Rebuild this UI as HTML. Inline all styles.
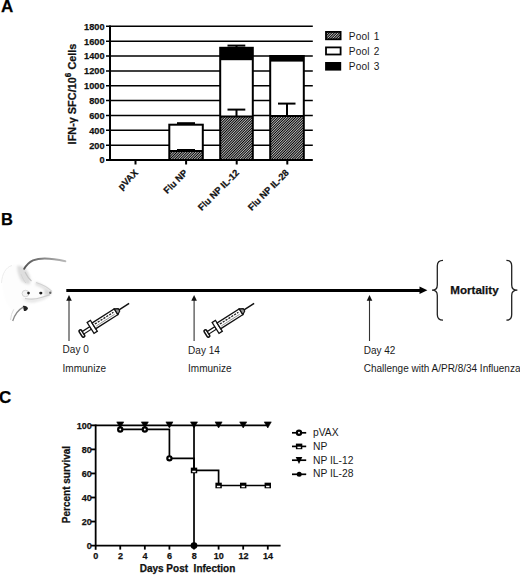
<!DOCTYPE html>
<html><head><meta charset="utf-8"><style>
html,body{margin:0;padding:0;background:#fff;width:520px;height:575px;overflow:hidden;}
svg{display:block;}
text{font-family:"Liberation Sans",sans-serif;}
.b{font-weight:bold;stroke:#111;stroke-width:0.25px;}
</style></head><body>
<svg width="520" height="575" viewBox="0 0 520 575">
<defs>
<filter id="soft" x="-10%" y="-10%" width="120%" height="120%"><feGaussianBlur stdDeviation="0.5"/></filter>
<filter id="soft2" x="-20%" y="-20%" width="140%" height="140%"><feGaussianBlur stdDeviation="1.3"/></filter>
<linearGradient id="tailg" gradientUnits="userSpaceOnUse" x1="24" y1="265" x2="66" y2="261"><stop offset="0" stop-color="#555"/><stop offset="0.5" stop-color="#888"/><stop offset="1" stop-color="#bbb"/></linearGradient>
<pattern id="hatch" patternUnits="userSpaceOnUse" width="1.8" height="1.8" patternTransform="rotate(-45)">
<rect width="1.8" height="1.8" fill="#fff"/>
<rect width="1.8" height="1.15" fill="#000"/>
</pattern>
<g id="syr">
<rect x="-1.4" y="-4" width="2.8" height="8" rx="1.2" fill="#fff" stroke="#111" stroke-width="1.6"/>
<rect x="1.4" y="-1.5" width="9" height="3" fill="#fff" stroke="#111" stroke-width="1.2"/>
<rect x="10.3" y="-6.4" width="3.9" height="12.8" fill="#fff" stroke="#111" stroke-width="1.3"/>
<rect x="14.2" y="-3.4" width="26.3" height="6.8" fill="#fff" stroke="#111" stroke-width="1.3"/>
<path d="M16 -1 L38 -1" stroke="#222" stroke-width="1.3" stroke-dasharray="2.2 1.2"/>
<path d="M16 1.4 L38 1.4" stroke="#888" stroke-width="0.8"/>
<path d="M40.5 -3.4 L44 -1.4 L44 1.4 L40.5 3.4 Z" fill="#999" stroke="#111" stroke-width="1.1"/>
<path d="M44 0 L56 0" stroke="#111" stroke-width="1.5"/>
</g>
</defs>

<!-- ===== Panel A ===== -->
<text x="1" y="12" class="b" font-size="17">A</text>

<!-- gridlines -->
<g stroke="#000" stroke-width="1.5">
<line x1="106" y1="26.35" x2="312.8" y2="26.35"/>
<line x1="106" y1="41.2" x2="312.8" y2="41.2"/>
<line x1="106" y1="56.05" x2="312.8" y2="56.05"/>
<line x1="106" y1="70.9" x2="312.8" y2="70.9"/>
<line x1="106" y1="85.75" x2="312.8" y2="85.75"/>
<line x1="106" y1="100.6" x2="312.8" y2="100.6"/>
<line x1="106" y1="115.45" x2="312.8" y2="115.45"/>
<line x1="106" y1="130.3" x2="312.8" y2="130.3"/>
<line x1="106" y1="145.15" x2="312.8" y2="145.15"/>
</g>
<!-- axes -->
<g stroke="#000" stroke-width="2">
<line x1="110" y1="25.6" x2="110" y2="161"/>
<line x1="106" y1="160" x2="312.8" y2="160"/>
<line x1="135.5" y1="160" x2="135.5" y2="164.5"/>
<line x1="186.1" y1="160" x2="186.1" y2="164.5"/>
<line x1="236.7" y1="160" x2="236.7" y2="164.5"/>
<line x1="287.3" y1="160" x2="287.3" y2="164.5"/>
</g>
<!-- y tick labels -->
<g class="b" font-size="9.2" text-anchor="end" fill="#111">
<text x="104.5" y="29.7">1800</text>
<text x="104.5" y="44.5">1600</text>
<text x="104.5" y="59.4">1400</text>
<text x="104.5" y="74.2">1200</text>
<text x="104.5" y="89.1">1000</text>
<text x="104.5" y="103.9">800</text>
<text x="104.5" y="118.8">600</text>
<text x="104.5" y="133.6">400</text>
<text x="104.5" y="148.5">200</text>
<text x="104.5" y="163.3">0</text>
</g>
<!-- y axis label -->
<text transform="translate(75.6,144.4) rotate(-90)" class="b" font-size="10.9" fill="#111">IFN-γ SFC/10<tspan dy="-4.6" font-size="8.2">6</tspan><tspan dy="4.6"> Cells</tspan></text>

<!-- bars -->
<!-- Flu NP -->
<rect x="169.3" y="124.7" width="33.5" height="35.3" fill="#fff"/>
<rect x="169.3" y="151" width="33.5" height="9" fill="url(#hatch)"/>
<g stroke="#000" stroke-width="2" fill="none">
<rect x="169.3" y="124.7" width="33.5" height="35.3"/>
<line x1="169.3" y1="151" x2="202.8" y2="151"/>
<line x1="177" y1="123.2" x2="195" y2="123.2"/>
<line x1="177" y1="150" x2="195" y2="150"/>
</g>
<!-- IL-12 -->
<rect x="220.2" y="47.8" width="32.6" height="112.2" fill="#fff"/>
<rect x="220.2" y="47.8" width="32.6" height="12.4" fill="#000"/>
<rect x="220.2" y="116.5" width="32.6" height="43.5" fill="url(#hatch)"/>
<g stroke="#000" stroke-width="2" fill="none">
<rect x="220.2" y="47.8" width="32.6" height="112.2"/>
<line x1="220.2" y1="116.5" x2="252.8" y2="116.5"/>
<line x1="236.5" y1="116.5" x2="236.5" y2="109.6"/>
<line x1="227.5" y1="109.6" x2="245.3" y2="109.6"/>
<line x1="227.5" y1="45.6" x2="245.3" y2="45.6"/>
<line x1="236.5" y1="47" x2="236.5" y2="45.6"/>
</g>
<!-- IL-28 -->
<rect x="270.2" y="56" width="33.6" height="104" fill="#fff"/>
<rect x="270.2" y="56" width="33.6" height="5.6" fill="#000"/>
<rect x="270.2" y="116" width="33.6" height="44" fill="url(#hatch)"/>
<g stroke="#000" stroke-width="2" fill="none">
<rect x="270.2" y="56" width="33.6" height="104"/>
<line x1="270.2" y1="116" x2="303.8" y2="116"/>
<line x1="287" y1="116" x2="287" y2="103.6"/>
<line x1="278" y1="103.6" x2="295.5" y2="103.6"/>
</g>

<!-- x labels rotated -->
<g class="b" font-size="9.3" text-anchor="end" fill="#111">
<text transform="translate(138.7,173.4) rotate(-45)">pVAX</text>
<text transform="translate(188.2,173.4) rotate(-45)">Flu NP</text>
<text transform="translate(239.7,173.4) rotate(-45)">Flu NP IL-12</text>
<text transform="translate(289.5,173.4) rotate(-45)">Flu NP IL-28</text>
</g>

<!-- legend A -->
<rect x="326" y="31.9" width="14.6" height="7.4" fill="url(#hatch)" stroke="#000" stroke-width="1.8"/>
<rect x="326" y="47.4" width="14.6" height="7.1" fill="#fff" stroke="#000" stroke-width="1.8"/>
<rect x="325.1" y="62" width="16.1" height="8.6" fill="#000"/>
<g font-size="10.1" fill="#1a1a1a" letter-spacing="0.15" word-spacing="1.2">
<text x="348.8" y="39.6">Pool 1</text>
<text x="348.8" y="54.8">Pool 2</text>
<text x="348.8" y="69.8">Pool 3</text>
</g>

<!-- ===== Panel B ===== -->
<text x="1" y="224.6" class="b" font-size="16.5">B</text>

<!-- mouse -->
<g id="mouse">
<g filter="url(#soft2)">
<path d="M2.5 288 C0.5 276 6 266 15 264.5 C20 264 24 266 27 270 C31 276 35 282 40 286 C45 288.5 50 290 51.5 292.5 C52 295 48 297.5 44 299 C38 301.5 32 303.5 27 306 C21 309 16 314 12 322 C9 321 9 316 12 310 C7 305 3.5 297 2.5 288 Z" fill="#fdfdfd"/>
<path d="M17 266 C21 265 25 267 28 272 C30 276 31 280 30 284 C27 285 22 283 20 279 C18 275 17 270 17 266 Z" fill="#dedede"/>
<path d="M36 281.5 C42 284 47 287 51 290.5 L48 292 C44 289.5 40 287 35 285 Z" fill="#e2e2e2"/>
<path d="M44 290 C47 290 50 291 51.5 293 C50 295.5 47 296 44.5 295 Z" fill="#d8d8d8"/>
<path d="M22 298 C30 300.5 38 299.5 44 297 C47 296 49.5 295 51 294 C48 298 42 301 34 302.5 C28 303 24 301 22 298 Z" fill="#e6e6e6"/>
</g>
<g filter="url(#soft)">
<path d="M1.5 283 C2 274 6 267 12 265.5" fill="none" stroke="#ececec" stroke-width="1"/>
<path d="M24.2 268.8 Q27.5 263 33 260.3 C40 257.6 52 258.2 65.4 261.2" fill="none" stroke="url(#tailg)" stroke-width="1.9" stroke-linecap="round"/>
<path d="M25 272 C27 276 29 279 31.5 281" fill="none" stroke="#c4c4c4" stroke-width="1.1"/>
<path d="M21 274 C22.5 278 24 281 26 283" fill="none" stroke="#d4d4d4" stroke-width="1"/>
<path d="M36 282.5 Q46 285.5 52 291.5" fill="none" stroke="#d2d2d2" stroke-width="1.1"/>
<path d="M25 298.5 Q34 300 40.4 297.7 Q46 296 50 294.6" fill="none" stroke="#cdcdcd" stroke-width="1.2"/>
<ellipse cx="25.5" cy="293.5" rx="3.4" ry="3.2" fill="#f4f4f4" stroke="#d0d0d0" stroke-width="0.9"/>
<circle cx="28.5" cy="293.1" r="1.3" fill="#1a1a1a"/>
<ellipse cx="40.8" cy="293.1" rx="1.6" ry="1.3" fill="#1a1a1a"/>
<ellipse cx="50.3" cy="292.8" rx="1.2" ry="1.3" fill="#666"/>
<path d="M22.8 306 C25 305.5 27.5 306.5 28 308.5 C27 310.5 25.5 311.2 24 311 Z" fill="#222"/>
<path d="M23.3 307.2 Q16 311 12.7 321" fill="none" stroke="#8a8a8a" stroke-width="1.3"/>
<path d="M13.8 309.3 Q11 314 10.5 320" fill="none" stroke="#ddd" stroke-width="1"/>
</g>
</g>

<!-- timeline -->
<line x1="66.3" y1="290.4" x2="421" y2="290.4" stroke="#000" stroke-width="3"/>
<path d="M419.5 286.6 L427.4 290.3 L419.5 294 Z" fill="#000"/>

<!-- up arrows -->
<g stroke="#333" stroke-width="1.1">
<line x1="69" y1="299" x2="69" y2="341"/>
<line x1="194.1" y1="299" x2="194.1" y2="341"/>
<line x1="369.5" y1="299" x2="369.5" y2="341"/>
</g>
<g fill="#111">
<path d="M69 295.0 L71.8 300.7 L66.2 300.7 Z"/>
<path d="M194.1 295.0 L196.9 300.7 L191.3 300.7 Z"/>
<path d="M369.5 295.0 L372.3 300.7 L366.7 300.7 Z"/>
</g>

<!-- syringes -->
<use href="#syr" transform="translate(81.9,333.5) rotate(-32.5)"/>
<use href="#syr" transform="translate(206.9,333.5) rotate(-32.5)"/>

<g font-size="10" fill="#1a1a1a">
<text x="62.6" y="353.4">Day 0</text>
<text x="62.6" y="371.8">Immunize</text>
<text x="188.1" y="353.5">Day 14</text>
<text x="188.1" y="371.7">Immunize</text>
<text x="363.7" y="353.5">Day 42</text>
<text x="363.7" y="371.7">Challenge with A/PR/8/34 Influenza</text>
</g>

<!-- braces -->
<g fill="none" stroke="#222" stroke-width="1.3">
<path d="M443 260.3 C439 260.3 437.3 262 437.3 266 L437.3 285 C437.3 288.5 435.5 290.2 432 290.2 C435.5 290.2 437.3 292 437.3 295.5 L437.3 314.5 C437.3 318.5 439 320.2 443 320.2"/>
<path d="M506.4 260.3 C510.2 260.3 511.7 262 511.7 266 L511.7 285 C511.7 288.5 513.6 290.2 517.4 290.2 C513.6 290.2 511.7 292 511.7 295.5 L511.7 314.5 C511.7 318.5 510.2 320.2 506.4 320.2"/>
</g>
<text x="450.3" y="293.8" class="b" font-size="11.6" fill="#111">Mortality</text>

<!-- ===== Panel C ===== -->
<text x="-1" y="402.6" class="b" font-size="17">C</text>
<g stroke="#000" stroke-width="1.8" fill="none">
<line x1="95.65" y1="424.5" x2="95.65" y2="549.8"/>
<line x1="91" y1="545.60" x2="280.6" y2="545.60"/>
<line x1="91" y1="425.35" x2="95.65" y2="425.35"/>
<line x1="91" y1="449.40" x2="95.65" y2="449.40"/>
<line x1="91" y1="473.45" x2="95.65" y2="473.45"/>
<line x1="91" y1="497.50" x2="95.65" y2="497.50"/>
<line x1="91" y1="521.55" x2="95.65" y2="521.55"/>
<line x1="120.24" y1="545.60" x2="120.24" y2="549.6"/>
<line x1="144.83" y1="545.60" x2="144.83" y2="549.6"/>
<line x1="169.42" y1="545.60" x2="169.42" y2="549.6"/>
<line x1="194.01" y1="545.60" x2="194.01" y2="549.6"/>
<line x1="218.60" y1="545.60" x2="218.60" y2="549.6"/>
<line x1="243.19" y1="545.60" x2="243.19" y2="549.6"/>
<line x1="267.78" y1="545.60" x2="267.78" y2="549.6"/>
</g>
<g class="b" font-size="9" text-anchor="end" fill="#111">
<text x="91.8" y="428.65">100</text>
<text x="91.8" y="452.70">80</text>
<text x="91.8" y="476.75">60</text>
<text x="91.8" y="500.80">40</text>
<text x="91.8" y="524.85">20</text>
<text x="91.8" y="548.90">0</text>
</g>
<g class="b" font-size="9" text-anchor="middle" fill="#111">
<text x="95.85" y="559">0</text>
<text x="120.44" y="559">2</text>
<text x="145.03" y="559">4</text>
<text x="169.62" y="559">6</text>
<text x="194.21" y="559">8</text>
<text x="218.80" y="559">10</text>
<text x="243.39" y="559">12</text>
<text x="267.98" y="559">14</text>
</g>
<text x="139.7" y="572.3" class="b" font-size="10" fill="#111" xml:space="preserve">Days Post  Infection</text>
<text transform="translate(70.1,523.2) rotate(-90)" class="b" font-size="10" fill="#111">Percent survival</text>
<g stroke="#000" stroke-width="1.7" fill="none">
<line x1="95.65" y1="425.35" x2="267.78" y2="425.35"/>
<path d="M120.24 429.45 L169.42 429.45 L169.42 458.35 L194.01 458.35 L194.01 545.60"/>
<path d="M194.01 425.35 L194.01 470.44 L218.60 470.44 L218.60 485.48 L267.78 485.48"/>
</g>
<g fill="#fff" stroke="#000" stroke-width="2.2">
<circle cx="120.24" cy="429.45" r="2.1"/>
<circle cx="144.83" cy="429.45" r="2.1"/>
<circle cx="169.42" cy="458.35" r="2.1"/>
</g>
<circle cx="194.01" cy="545.60" r="3.4" fill="#000"/>
<rect x="190.81" y="467.64" width="6.4" height="5.6" fill="#000"/><rect x="192.31" y="470.74" width="3.4" height="1.5" fill="#fff"/>
<rect x="215.40" y="482.68" width="6.4" height="5.6" fill="#000"/><rect x="216.90" y="485.78" width="3.4" height="1.5" fill="#fff"/>
<rect x="239.99" y="482.68" width="6.4" height="5.6" fill="#000"/><rect x="241.49" y="485.78" width="3.4" height="1.5" fill="#fff"/>
<rect x="264.58" y="482.68" width="6.4" height="5.6" fill="#000"/><rect x="266.08" y="485.78" width="3.4" height="1.5" fill="#fff"/>
<g fill="#000" stroke="#000" stroke-width="0.6" stroke-linejoin="round">
<path d="M116.74 421.9 L123.74 421.9 L120.24 428 Z"/>
<path d="M141.33 421.9 L148.33 421.9 L144.83 428 Z"/>
<path d="M165.92 421.9 L172.92 421.9 L169.42 428 Z"/>
<path d="M190.51 421.9 L197.51 421.9 L194.01 428 Z"/>
<path d="M215.10 421.9 L222.10 421.9 L218.60 428 Z"/>
<path d="M239.69 421.9 L246.69 421.9 L243.19 428 Z"/>
<path d="M264.28 421.9 L271.28 421.9 L267.78 428 Z"/>
</g>
<!-- legend C -->
<g stroke="#000" stroke-width="1.7">
<line x1="292" y1="432.8" x2="306.2" y2="432.8"/>
<line x1="292" y1="446.4" x2="306.2" y2="446.4"/>
<line x1="292" y1="460.2" x2="306.2" y2="460.2"/>
<line x1="292" y1="474.3" x2="306.2" y2="474.3"/>
</g>
<circle cx="299" cy="432.8" r="2.1" fill="#fff" stroke="#000" stroke-width="2.2"/>
<rect x="295.90" y="443.60" width="6.4" height="5.6" fill="#000"/><rect x="297.40" y="446.70" width="3.4" height="1.5" fill="#fff"/>
<path d="M295.7 457 L302.3 457 L299 464 Z" fill="#000"/>
<circle cx="299.2" cy="474.3" r="2.5" fill="#000"/>
<g font-size="10.3" fill="#1a1a1a">
<text x="313" y="435.9">pVAX</text>
<text x="313" y="449.6">NP</text>
<text x="313" y="463.6">NP IL-12</text>
<text x="313" y="477">NP IL-28</text>
</g>
</svg>
</body></html>
